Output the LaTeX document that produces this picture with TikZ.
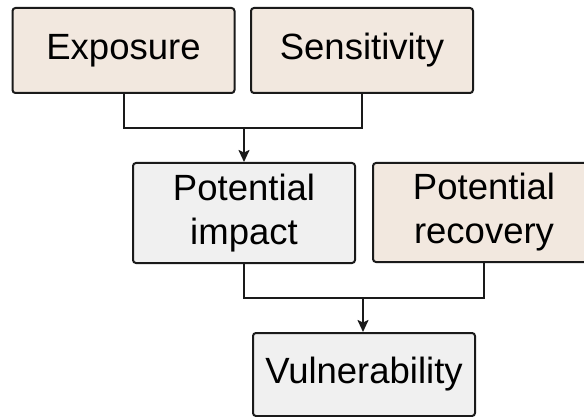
\documentclass[tikz,border=0pt]{standalone}
\usepackage{fontspec}
\setmainfont{Liberation Sans}
\usetikzlibrary{arrows.meta}
\definecolor{beigefill}{HTML}{F2E8DF}
\definecolor{greyfill}{HTML}{F0F0F0}
\definecolor{edge}{HTML}{1A1A1A}
\begin{document}
\begin{tikzpicture}[x=1pt,y=-1pt,
  box/.style={draw=edge, line width=2pt, rounded corners=3pt,
    minimum width=222pt, align=center, inner sep=0pt,
    font=\fontsize{36.5}{44}\selectfont},
  warm/.style={box, fill=beigefill},
  cool/.style={box, fill=greyfill},
  link/.style={draw=edge, line width=2pt},
  arrowlink/.style={link, -{Stealth[length=12pt,width=11pt,inset=2.5pt]}}]
  \useasboundingbox (0,0) rectangle (584,417);
  \clip (0,0) rectangle (584,417);
  % top row
  \node[warm, minimum height=85pt] (exp) at (123.5,50.5) {Exposure};
  \node[warm, minimum height=85pt] (sen) at (362,50.5) {Sensitivity};
  % middle row
  \node[cool, minimum height=100pt] (imp) at (244,213) {Potential\\impact};
  \node[warm, minimum height=99pt] (rec) at (484,212.5) {Potential\\recovery};
  % bottom
  \node[cool, minimum height=83pt] (vul) at (364,374.5) {Vulnerability};
  % junctions
  \coordinate (j1) at (244,128);
  \coordinate (j2) at (363,298);
  \draw[link] (exp.south) |- (j1) -| (sen.south);
  \draw[arrowlink] (j1) -- (imp.north);
  \draw[link] (imp.south) |- (j2) -| (rec.south);
  \draw[arrowlink] (j2) -- (vul.north -| j2);
\end{tikzpicture}
\end{document}
